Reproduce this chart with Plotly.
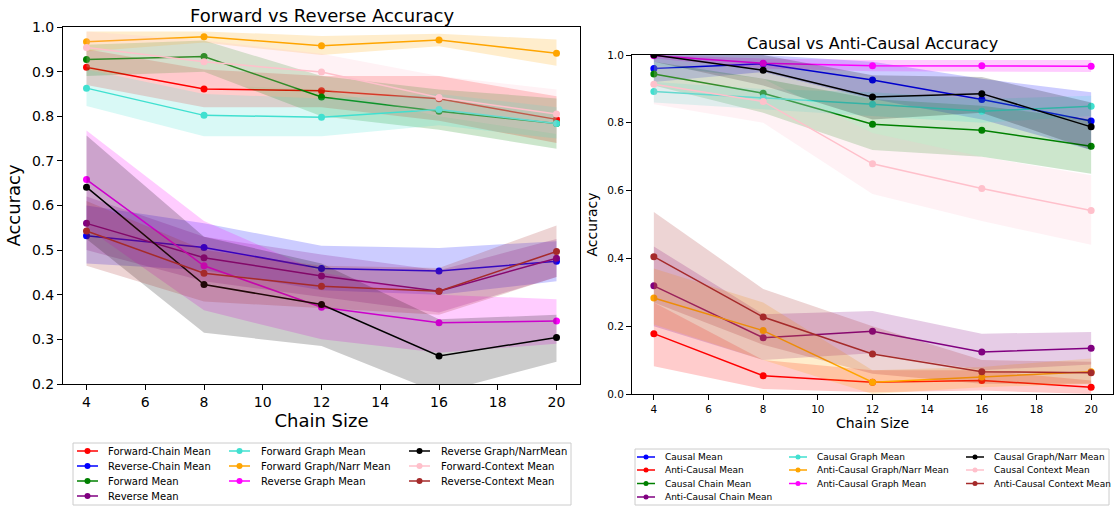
import plotly.graph_objects as go

W, H = 1114, 506

chain_sizes = [4, 8, 12, 16, 20]

# ---------------- Left panel: Forward vs Reverse ----------------
left_names = ["Forward-Chain Mean", "Reverse-Chain Mean", "Forward Mean", "Reverse Mean",
              "Forward Graph Mean", "Forward Graph/Narr Mean", "Reverse Graph Mean",
              "Reverse Graph/NarrMean", "Forward-Context Mean", "Reverse-Context Mean"]
left_colors = ["#ff0000", "#0000ff", "#008000", "#800080",
               "#40e0d0", "#ffa500", "#ff00ff",
               "#000000", "#ffc0cb", "#a52a2a"]

forward_chain_mean = [0.910, 0.861, 0.857, 0.839, 0.793]
forward_chain_lo = [0.870, 0.820, 0.820, 0.790, 0.740]
forward_chain_hi = [0.950, 0.905, 0.890, 0.890, 0.845]

reverse_chain_mean = [0.532, 0.506, 0.459, 0.453, 0.475]
reverse_chain_lo = [0.470, 0.455, 0.410, 0.400, 0.430]
reverse_chain_hi = [0.600, 0.560, 0.510, 0.505, 0.520]

forward_mean = [0.927, 0.934, 0.843, 0.811, 0.784]
forward_lo = [0.890, 0.900, 0.800, 0.770, 0.727]
forward_hi = [0.960, 0.970, 0.890, 0.860, 0.840]

reverse_mean = [0.560, 0.483, 0.442, 0.408, 0.482]
reverse_lo = [0.500, 0.430, 0.395, 0.360, 0.440]
reverse_hi = [0.620, 0.530, 0.490, 0.455, 0.525]

forward_graph_mean = [0.863, 0.802, 0.798, 0.815, 0.784]
forward_graph_lo = [0.823, 0.755, 0.755, 0.780, 0.750]
forward_graph_hi = [0.905, 0.850, 0.840, 0.850, 0.820]

forward_graphnarr_mean = [0.967, 0.978, 0.958, 0.971, 0.941]
forward_graphnarr_lo = [0.945, 0.965, 0.937, 0.957, 0.913]
forward_graphnarr_hi = [0.990, 0.990, 0.980, 0.985, 0.972]

reverse_graph_mean = [0.658, 0.465, 0.372, 0.337, 0.341]
reverse_graph_lo = [0.550, 0.365, 0.300, 0.270, 0.290]
reverse_graph_hi = [0.768, 0.565, 0.450, 0.400, 0.390]

reverse_graphnarr_mean = [0.641, 0.423, 0.378, 0.263, 0.304]
reverse_graphnarr_lo = [0.525, 0.315, 0.285, 0.180, 0.250]
reverse_graphnarr_hi = [0.757, 0.530, 0.470, 0.345, 0.355]

forward_context_mean = [0.954, 0.922, 0.899, 0.842, 0.805]
forward_context_lo = [0.910, 0.870, 0.860, 0.800, 0.760]
forward_context_hi = [0.990, 0.970, 0.940, 0.890, 0.860]

reverse_context_mean = [0.543, 0.448, 0.419, 0.408, 0.497]
reverse_context_lo = [0.465, 0.385, 0.370, 0.355, 0.440]
reverse_context_hi = [0.610, 0.500, 0.465, 0.460, 0.555]

left_series = [
    (forward_chain_mean, forward_chain_lo, forward_chain_hi),
    (reverse_chain_mean, reverse_chain_lo, reverse_chain_hi),
    (forward_mean, forward_lo, forward_hi),
    (reverse_mean, reverse_lo, reverse_hi),
    (forward_graph_mean, forward_graph_lo, forward_graph_hi),
    (forward_graphnarr_mean, forward_graphnarr_lo, forward_graphnarr_hi),
    (reverse_graph_mean, reverse_graph_lo, reverse_graph_hi),
    (reverse_graphnarr_mean, reverse_graphnarr_lo, reverse_graphnarr_hi),
    (forward_context_mean, forward_context_lo, forward_context_hi),
    (reverse_context_mean, reverse_context_lo, reverse_context_hi),
]

# ---------------- Right panel: Causal vs Anti-Causal ----------------
right_names = ["Causal Mean", "Anti-Causal Mean", "Causal Chain Mean", "Anti-Causal Chain Mean",
               "Causal Graph Mean", "Anti-Causal Graph/Narr Mean", "Anti-Causal Graph Mean",
               "Causal Graph/Narr Mean", "Causal Context Mean", "Anti-Causal Context Mean"]
right_colors = ["#0000ff", "#ff0000", "#008000", "#800080",
                "#40e0d0", "#ffa500", "#ff00ff",
                "#000000", "#ffc0cb", "#a52a2a"]

causal_mean = [0.960, 0.974, 0.926, 0.869, 0.805]
causal_lo = [0.920, 0.950, 0.870, 0.810, 0.720]
causal_hi = [1.000, 1.000, 0.980, 0.930, 0.890]

anti_mean = [0.178, 0.054, 0.035, 0.040, 0.020]
anti_lo = [0.082, 0.015, 0.005, 0.010, 0.000]
anti_hi = [0.270, 0.100, 0.070, 0.070, 0.040]

causal_chain_mean = [0.944, 0.887, 0.796, 0.778, 0.731]
causal_chain_lo = [0.910, 0.830, 0.720, 0.700, 0.650]
causal_chain_hi = [0.980, 0.930, 0.870, 0.850, 0.810]

anti_chain_mean = [0.319, 0.166, 0.185, 0.124, 0.135]
anti_chain_lo = [0.200, 0.100, 0.120, 0.070, 0.087]
anti_chain_hi = [0.435, 0.235, 0.245, 0.178, 0.183]

causal_graph_mean = [0.892, 0.874, 0.855, 0.834, 0.849]
causal_graph_lo = [0.860, 0.840, 0.820, 0.800, 0.820]
causal_graph_hi = [0.920, 0.900, 0.890, 0.870, 0.880]

anti_graphnarr_mean = [0.283, 0.187, 0.035, 0.050, 0.066]
anti_graphnarr_lo = [0.205, 0.100, 0.000, 0.020, 0.030]
anti_graphnarr_hi = [0.370, 0.270, 0.070, 0.080, 0.105]

anti_graph_mean = [0.998, 0.976, 0.968, 0.968, 0.967]
anti_graph_lo = [0.990, 0.960, 0.952, 0.952, 0.950]
anti_graph_hi = [1.000, 0.990, 0.985, 0.985, 0.985]

causal_graphnarr_mean = [1.000, 0.955, 0.876, 0.886, 0.788]
causal_graphnarr_lo = [0.980, 0.910, 0.810, 0.830, 0.720]
causal_graphnarr_hi = [1.000, 1.000, 0.940, 0.935, 0.860]

causal_context_mean = [0.914, 0.863, 0.679, 0.606, 0.541]
causal_context_lo = [0.855, 0.800, 0.590, 0.510, 0.440]
causal_context_hi = [0.970, 0.930, 0.770, 0.700, 0.645]

anti_context_mean = [0.405, 0.227, 0.118, 0.066, 0.063]
anti_context_lo = [0.270, 0.145, 0.060, 0.030, 0.030]
anti_context_hi = [0.537, 0.310, 0.200, 0.100, 0.095]

right_series = [
    (causal_mean, causal_lo, causal_hi),
    (anti_mean, anti_lo, anti_hi),
    (causal_chain_mean, causal_chain_lo, causal_chain_hi),
    (anti_chain_mean, anti_chain_lo, anti_chain_hi),
    (causal_graph_mean, causal_graph_lo, causal_graph_hi),
    (anti_graphnarr_mean, anti_graphnarr_lo, anti_graphnarr_hi),
    (anti_graph_mean, anti_graph_lo, anti_graph_hi),
    (causal_graphnarr_mean, causal_graphnarr_lo, causal_graphnarr_hi),
    (causal_context_mean, causal_context_lo, causal_context_hi),
    (anti_context_mean, anti_context_lo, anti_context_hi),
]

left_ticks = [0.2, 0.3, 0.4, 0.5, 0.6, 0.7, 0.8, 0.9, 1.0]
right_ticks = [0.0, 0.2, 0.4, 0.6, 0.8, 1.0]
x_ticks = [4, 6, 8, 10, 12, 14, 16, 18, 20]

FONT = "DejaVu Sans"


def rgba(hex_color, a):
    h = hex_color.lstrip("#")
    r, g, b = int(h[0:2], 16), int(h[2:4], 16), int(h[4:6], 16)
    return f"rgba({r},{g},{b},{a})"


def px(x):
    return x / W


def py(y):
    return 1 - y / H


fig = go.Figure()


def add_panel(series, names, colors, xa, ya):
    for (mean, lo, hi), name, col in zip(series, names, colors):
        fig.add_trace(go.Scatter(
            x=chain_sizes + chain_sizes[::-1], y=hi + lo[::-1],
            fill="toself", fillcolor=rgba(col, 0.2), line=dict(width=0),
            mode="lines", hoverinfo="skip", showlegend=False,
            xaxis=xa, yaxis=ya))
        fig.add_trace(go.Scatter(
            x=chain_sizes, y=mean, name=name, mode="lines+markers",
            line=dict(color=col, width=1.5), marker=dict(color=col, size=7),
            showlegend=False, xaxis=xa, yaxis=ya))


add_panel(left_series, left_names, left_colors, "x", "y")
add_panel(right_series, right_names, right_colors, "x2", "y2")

shapes = []
annotations = []


def add_legend(names, colors, box, col_line_x, col_text_x, row_y, line_len, fsize, msize):
    x0, y0, x1, y1 = box
    shapes.append(dict(type="rect", xref="paper", yref="paper",
                       x0=px(x0), x1=px(x1), y0=py(y1), y1=py(y0),
                       line=dict(color="#cccccc", width=1), fillcolor="rgba(255,255,255,0.8)",
                       layer="above"))
    cols = [[0, 1, 2, 3], [4, 5, 6], [7, 8, 9]]
    for ci, idxs in enumerate(cols):
        for ri, idx in enumerate(idxs):
            yy = row_y[ri]
            lx = col_line_x[ci]
            col = colors[idx]
            shapes.append(dict(type="line", xref="paper", yref="paper",
                               x0=px(lx), x1=px(lx + line_len), y0=py(yy), y1=py(yy),
                               line=dict(color=col, width=1.5), layer="above"))
            cx = lx + line_len / 2
            r = msize / 2
            shapes.append(dict(type="circle", xref="paper", yref="paper",
                               x0=px(cx - r), x1=px(cx + r), y0=py(yy + r), y1=py(yy - r),
                               line=dict(color=col, width=0), fillcolor=col, layer="above"))
            annotations.append(dict(text=names[idx], xref="paper", yref="paper",
                                    x=px(col_text_x[ci]), y=py(yy), xanchor="left", yanchor="middle",
                                    showarrow=False, font=dict(family=FONT, size=fsize, color="#000000")))


add_legend(left_names, left_colors, (73, 443, 571, 505),
           [77, 229, 409], [106, 259, 439], [451, 466, 481, 496], 21, 10, 6)
add_legend(right_names, right_colors, (635, 449, 1109, 505),
           [637, 789, 966], [663, 815, 992], [457, 470, 483.5, 497], 18, 9, 5)

axis_common = dict(showline=True, linecolor="#000000", linewidth=1, mirror=True,
                   ticks="outside", ticklen=5, tickwidth=1, tickcolor="#000000",
                   showgrid=False, zeroline=False, automargin=False)

fig.update_layout(
    width=W, height=H,
    margin=dict(l=0, r=0, t=0, b=0),
    paper_bgcolor="white", plot_bgcolor="white",
    font=dict(family=FONT, color="#000000"),
    showlegend=False,
    xaxis=dict(domain=[63 / W, 580 / W], range=[3.2, 20.8], tickvals=x_ticks,
               tickfont=dict(size=14), title=dict(text="Chain Size", font=dict(size=18), standoff=2),
               anchor="y", **axis_common),
    yaxis=dict(domain=[1 - 384 / H, 1 - 27 / H], range=[0.2, 1.0], tickvals=left_ticks,
               tickformat=".1f", tickfont=dict(size=14),
               title=dict(text="Accuracy", font=dict(size=18), standoff=6),
               anchor="x", **axis_common),
    xaxis2=dict(domain=[632 / W, 1113 / W], range=[3.2, 20.8], tickvals=x_ticks,
                tickfont=dict(size=10.5), title=dict(text="Chain Size", font=dict(size=14), standoff=2),
                anchor="y2", **axis_common),
    yaxis2=dict(domain=[1 - 394 / H, 1 - 55 / H], range=[0.0, 1.0], tickvals=right_ticks,
                tickformat=".1f", tickfont=dict(size=10.5),
                title=dict(text="Accuracy", font=dict(size=14), standoff=6),
                anchor="x2", **axis_common),
    shapes=shapes,
    annotations=annotations + [
        dict(text="Forward vs Reverse Accuracy", xref="paper", yref="paper",
             x=px(321.5), y=py(15), xanchor="center", yanchor="middle", showarrow=False,
             font=dict(family=FONT, size=18)),
        dict(text="Causal vs Anti-Causal Accuracy", xref="paper", yref="paper",
             x=px(872), y=py(44), xanchor="center", yanchor="middle", showarrow=False,
             font=dict(family=FONT, size=16)),
    ],
)

fig.write_html("out.html", config={"displayModeBar": False},
               post_script="document.body.style.margin='0px';document.body.style.overflow='hidden';")
